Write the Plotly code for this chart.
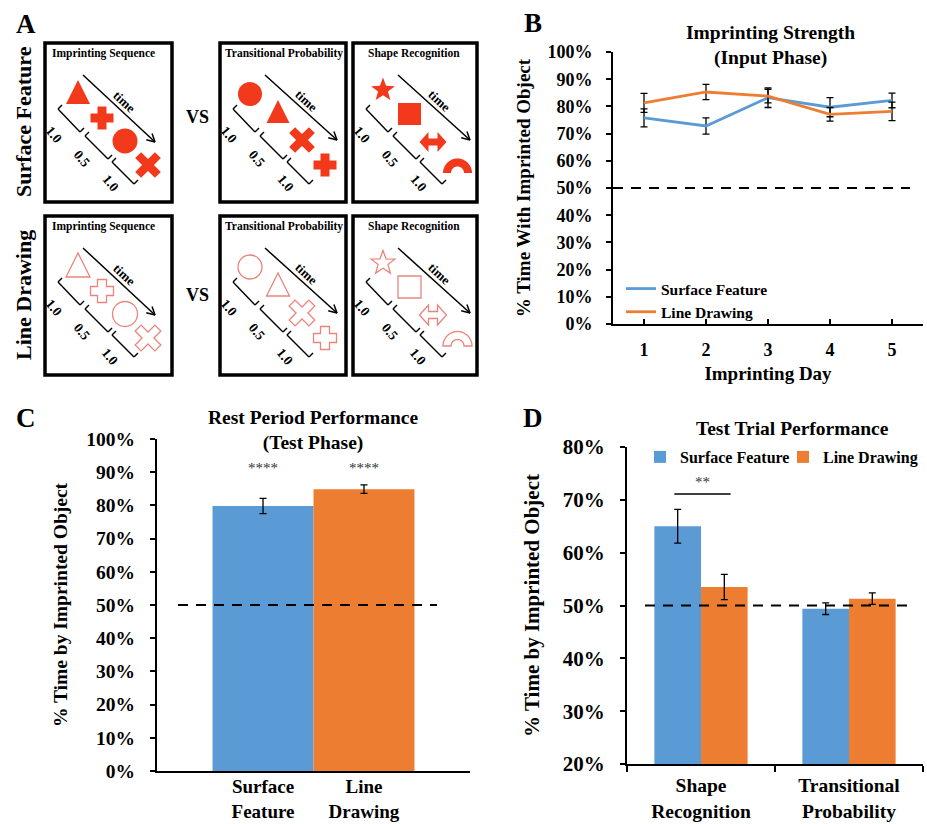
import math
import plotly.graph_objects as go

W, H = 927, 824
FONT = "Liberation Serif, Times New Roman, serif"
BLUE = "#5B9BD5"
ORANGE = "#ED7D31"
RED = "#F2391C"
PINK = "#E9857C"

# ---------------- data ----------------
days = [1, 2, 3, 4, 5]
b_surface = [75.8, 72.8, 83.2, 79.7, 82.2]
b_surface_err = [3.3, 3.0, 3.6, 3.5, 2.7]
b_line = [81.3, 85.3, 83.8, 77.1, 78.2]
b_line_err = [3.5, 2.8, 2.5, 2.5, 3.4]

c_groups = ["Surface<br>Feature", "Line<br>Drawing"]
c_values = [79.8, 84.9]
c_err = [2.3, 1.3]
c_sig = ["****", "****"]

d_cats = ["Shape<br>Recognition", "Transitional<br>Probability"]
d_surface = [65.0, 49.4]
d_surface_err = [3.2, 1.1]
d_line = [53.5, 51.3]
d_line_err = [2.4, 1.1]
d_sig = "**"

series_names = ["Surface Feature", "Line Drawing"]
chance = 50


def px(x):
    return x / W


def py(y):
    return 1 - y / H


def bold(size, color="black"):
    return dict(family=FONT, size=size, color=color, weight="bold")


shapes = []
annotations = []

# ---------------- panel A (diagram) ----------------
def path_from(pts):
    return "M" + "L".join(f"{px(x):.5f},{py(y):.5f}" for x, y in pts) + "Z"


def add_poly(pts, filled):
    shapes.append(dict(type="path", xref="paper", yref="paper", path=path_from(pts),
                       fillcolor=RED if filled else "rgba(0,0,0,0)",
                       line=dict(color=RED if filled else PINK, width=0 if filled else 1.3)))


def add_circle(cx, cy, r, filled):
    shapes.append(dict(type="circle", xref="paper", yref="paper",
                       x0=px(cx - r), x1=px(cx + r), y0=py(cy + r), y1=py(cy - r),
                       fillcolor=RED if filled else "rgba(0,0,0,0)",
                       line=dict(color=RED if filled else PINK, width=0 if filled else 1.3)))


def triangle(cx, top, bottom, hw):
    return [(cx, top), (cx + hw, bottom), (cx - hw, bottom)]


def plus_pts(cx, cy, L, a):
    return [(cx - a, cy - L), (cx + a, cy - L), (cx + a, cy - a), (cx + L, cy - a),
            (cx + L, cy + a), (cx + a, cy + a), (cx + a, cy + L), (cx - a, cy + L),
            (cx - a, cy + a), (cx - L, cy + a), (cx - L, cy - a), (cx - a, cy - a)]


def x_pts(cx, cy, L, a):
    out = []
    c, s = math.cos(math.pi / 4), math.sin(math.pi / 4)
    for x, y in plus_pts(0, 0, L, a):
        out.append((cx + x * c - y * s, cy + x * s + y * c))
    return out


def star_pts(cx, cy, R, r):
    out = []
    for k in range(10):
        ang = -math.pi / 2 + k * math.pi / 5
        rad = R if k % 2 == 0 else r
        out.append((cx + rad * math.cos(ang), cy + rad * math.sin(ang)))
    return out


def darrow_pts(cx, cy, hw, hh, sh, hl):
    return [(cx - hw, cy), (cx - hw + hl, cy - hh), (cx - hw + hl, cy - sh),
            (cx + hw - hl, cy - sh), (cx + hw - hl, cy - hh), (cx + hw, cy),
            (cx + hw - hl, cy + hh), (cx + hw - hl, cy + sh), (cx - hw + hl, cy + sh),
            (cx - hw + hl, cy + hh)]


def arch_pts(cx, base, R, r, n=24):
    out = []
    for k in range(n + 1):
        ang = math.pi - math.pi * k / n
        out.append((cx + R * math.cos(ang), base - R * math.sin(ang)))
    for k in range(n + 1):
        ang = math.pi * k / n
        out.append((cx + r * math.cos(ang), base - r * math.sin(ang)))
    return out


def add_line(x0, y0, x1, y1, width=1.5, color="black"):
    shapes.append(dict(type="line", xref="paper", yref="paper",
                       x0=px(x0), y0=py(y0), x1=px(x1), y1=py(y1),
                       line=dict(color=color, width=width)))


def add_arrow(x0, y0, x1, y1):
    add_line(x0, y0, x1, y1)
    d = math.hypot(x1 - x0, y1 - y0)
    ux, uy = (x0 - x1) / d, (y0 - y1) / d
    for sgn in (1, -1):
        a = math.radians(28) * sgn
        vx = ux * math.cos(a) - uy * math.sin(a)
        vy = ux * math.sin(a) + uy * math.cos(a)
        add_line(x1, y1, x1 + 9 * vx, y1 + 9 * vy)


def add_text(x, y, text, size, angle=0, anchor="center", color="black"):
    annotations.append(dict(xref="paper", yref="paper", x=px(x), y=py(y), text=text,
                            showarrow=False, font=bold(size, color), textangle=angle,
                            xanchor=anchor, yanchor="middle"))


brackets = [((13, 66), (35, 89)), ((40, 93), (63, 116)), ((67, 119), (89, 141))]
bracket_labels = [("1.0", (9, 91)), ("0.5", (37, 115)), ("1.0", (65, 140))]


def draw_box(ox, oy, w, h, title, tx, tanchor, kind, filled, arrow):
    shapes.append(dict(type="rect", xref="paper", yref="paper", x0=px(ox), x1=px(ox + w),
                       y0=py(oy + h), y1=py(oy), line=dict(color="black", width=3.5)))
    add_text(ox + tx, oy + 10, title, 11.5, anchor=tanchor)
    (ax0, ay0), (ax1, ay1) = arrow
    add_arrow(ox + ax0, oy + ay0, ox + ax1, oy + ay1)
    add_text(ox + (ax0 + ax1) / 2 + 5, oy + (ay0 + ay1) / 2 - 7, "time", 13, angle=43)
    for (p, q) in brackets:
        x0, y0 = ox + p[0], oy + p[1]
        x1, y1 = ox + q[0], oy + q[1]
        add_line(x0, y0, x1, y1, 1.4)
        add_line(x0, y0, x0 + 4, y0 - 4, 1.4)
        add_line(x1, y1, x1 + 4, y1 - 4, 1.4)
    for lab, (lx, ly) in bracket_labels:
        add_text(ox + lx, oy + ly, lab, 13.5, angle=50)
    if kind == "seq":
        add_poly(triangle(ox + 33, oy + 37, oy + 61, 12), filled)
        add_poly(plus_pts(ox + 57, oy + 75, 11.5, 4.5), filled)
        add_circle(ox + 80, oy + 98, 12.5, filled)
        add_poly(x_pts(ox + 103, oy + 122, 14, 4.2), filled)
    elif kind == "tp":
        add_circle(ox + 30, oy + 51, 12, filled)
        add_poly(triangle(ox + 58, oy + 57, oy + 80, 11.5), filled)
        add_poly(x_pts(ox + 82, oy + 97, 14, 4.2), filled)
        add_poly(plus_pts(ox + 105, oy + 122, 11.5, 4.5), filled)
    else:
        add_poly(star_pts(ox + 30, oy + 47, 12.5, 5.2), filled)
        add_poly([(ox + 45, oy + 60), (ox + 68, oy + 60), (ox + 68, oy + 82), (ox + 45, oy + 82)], filled)
        add_poly(darrow_pts(ox + 80, oy + 99, 13.5, 10, 3.5, 9), filled)
        add_poly(arch_pts(ox + 104.5, oy + 130, 14.5, 6.5), filled)


for row_y, filled in ((43, True), (216, False)):
    draw_box(45, row_y, 127, 159, "Imprinting Sequence", 58, "center", "seq", filled,
             ((38, 32), (110, 99)))
    draw_box(220, row_y, 126, 159, "Transitional Probability", 3, "left", "tp", filled,
             ((45, 32), (117, 97)))
    draw_box(353, row_y, 124, 159, "Shape Recognition", 61, "center", "sr", filled,
             ((45, 32), (117, 97)))
    add_text(197, row_y + 74 if filled else row_y + 79, "VS", 18)

add_text(23, 122, "Surface Feature", 22, angle=-90)
add_text(23, 295, "Line Drawing", 22, angle=-90)

# panel letters
for letter, (lx, ly) in zip("ABCD", [(26, 24), (533, 23), (26, 418), (533, 418)]):
    add_text(lx, ly, letter, 27)

# panel titles
add_text(770, 45, "Imprinting Strength<br>(Input Phase)", 19.5)
add_text(313, 430, "Rest Period Performance<br>(Test Phase)", 19.5)
add_text(792, 428, "Test Trial Performance", 19.5)

# ---------------- traces ----------------
fig = go.Figure()
err_style = dict(type="data", color="black", thickness=1.3, width=3.5)

for name, vals, errs, col in ((series_names[0], b_surface, b_surface_err, BLUE),
                              (series_names[1], b_line, b_line_err, ORANGE)):
    fig.add_trace(go.Scatter(x=days, y=vals, name=name, mode="lines",
                             line=dict(color=col, width=2.8),
                             error_y=dict(array=errs, **err_style),
                             xaxis="x", yaxis="y", legend="legend"))

fig.add_trace(go.Bar(x=c_groups, y=c_values, marker=dict(color=[BLUE, ORANGE], line=dict(width=0)),
                     width=1, error_y=dict(array=c_err, **err_style), showlegend=False,
                     xaxis="x2", yaxis="y2"))

for name, vals, errs, col in ((series_names[0], d_surface, d_surface_err, BLUE),
                              (series_names[1], d_line, d_line_err, ORANGE)):
    fig.add_trace(go.Bar(x=d_cats, y=vals, name=name, marker=dict(color=col, line=dict(width=0)),
                         error_y=dict(array=errs, **err_style),
                         xaxis="x3", yaxis="y3", legend="legend2"))

# significance marks
for g, s in zip(c_groups, c_sig):
    annotations.append(dict(xref="x2", yref="y2", x=g, y=91.3, text=s, showarrow=False,
                            font=dict(family=FONT, size=15, color="#333333")))
annotations.append(dict(xref="x3", yref="y3", x=0.01, y=73.4, text=d_sig, showarrow=False,
                        font=dict(family=FONT, size=15, color="#333333")))
shapes.append(dict(type="line", xref="x3", yref="y3", x0=-0.18, x1=0.2, y0=71.1, y1=71.1,
                   line=dict(color="black", width=1.5)))

# chance lines
for yref, x0, x1 in (("y", 613, 910), ("y2", 178, 437), ("y3", 645, 910)):
    shapes.append(dict(type="line", xref="paper", yref=yref, x0=px(x0), x1=px(x1),
                       y0=chance, y1=chance, line=dict(color="black", width=2, dash="10px,8px")))

axis_common = dict(showline=True, linecolor="black", linewidth=2, showgrid=False,
                   zeroline=False, tickcolor="black", tickwidth=1.5, fixedrange=True,
                   automargin=False)

fig.update_layout(
    width=W, height=H, margin=dict(l=0, r=0, t=0, b=0, autoexpand=False),
    paper_bgcolor="white", plot_bgcolor="white",
    barmode="group", bargap=0.37, bargroupgap=0,
    xaxis=dict(domain=[px(613), px(923)], anchor="y", range=[0.5, 5.5], tickvals=days,
               ticks="inside", ticklen=5, tickfont=bold(18), ticklabelstandoff=8,
               title=dict(text="Imprinting Day", font=bold(19), standoff=8), **axis_common),
    yaxis=dict(domain=[py(324), py(52)], anchor="x", range=[0, 100], dtick=10, ticksuffix="%",
               ticks="outside", ticklen=5, tickfont=bold(18), ticklabelstandoff=10,
               title=dict(text="% Time With Imprinted Object", font=bold(19), standoff=12),
               **axis_common),
    xaxis2=dict(domain=[px(157), px(470)], anchor="y2", type="category", range=[-1.05, 2.05],
                ticks="", tickfont=bold(19), ticklabelstandoff=-3, **axis_common),
    yaxis2=dict(domain=[py(771), py(439)], anchor="x2", range=[0, 100], dtick=10, ticksuffix="%",
                ticks="outside", ticklen=5, tickfont=bold(19.5), ticklabelstandoff=11,
                title=dict(text="% Time by Imprinted Object", font=bold(19.5), standoff=14),
                **axis_common),
    xaxis3=dict(domain=[px(627), px(923)], anchor="y3", type="category", range=[-0.5, 1.5],
                ticks="outside", tickson="boundaries", ticklen=6, tickfont=bold(19.5),
                ticklabelstandoff=3, **axis_common),
    yaxis3=dict(domain=[py(764), py(447)], anchor="x3", range=[20, 80], dtick=10, ticksuffix="%",
                ticks="outside", ticklen=5, tickfont=bold(21), ticklabelstandoff=11,
                title=dict(text="% Time by Imprinted Object", font=bold(21), standoff=17),
                **axis_common),
    legend=dict(x=px(621), y=py(272), xanchor="left", yanchor="top", font=bold(15.5),
                bgcolor="rgba(0,0,0,0)", tracegroupgap=0, itemwidth=30),
    legend2=dict(x=px(640), y=py(440), xanchor="left", yanchor="top", orientation="h",
                 font=bold(16), bgcolor="rgba(0,0,0,0)", itemwidth=30,
                 entrywidth=98, entrywidthmode="pixels"),
    shapes=shapes, annotations=annotations,
)

fig.write_html("out.html", config={"displayModeBar": False},
               post_script="document.body.style.margin='0';document.body.style.overflow='hidden';")
